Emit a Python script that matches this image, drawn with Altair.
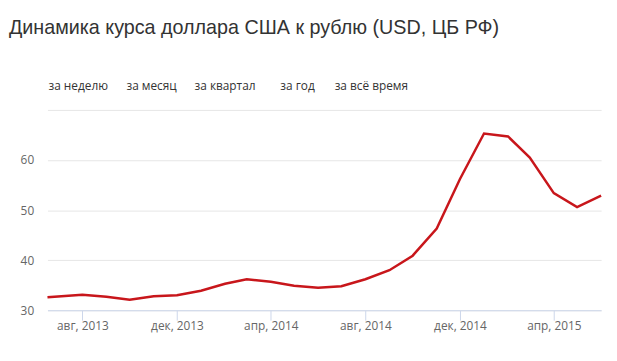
import altair as alt
import pandas as pd

TITLE = "Динамика курса доллара США к рублю (USD, ЦБ РФ)"
BUTTONS = ["за неделю", "за месяц", "за квартал", "за год", "за всё время"]

DATES = [
    "2013-06-17", "2013-08-01", "2013-09-01", "2013-10-01", "2013-11-01", "2013-12-01",
    "2014-01-01", "2014-02-01", "2014-03-01", "2014-04-01", "2014-05-01", "2014-06-01",
    "2014-07-01", "2014-08-01", "2014-09-01", "2014-10-01", "2014-11-01", "2014-12-01",
    "2015-01-01", "2015-02-01", "2015-03-01", "2015-04-01", "2015-05-01", "2015-06-01",
]
RATES = [
    32.6, 33.1, 32.7, 32.1, 32.8, 33.0,
    33.9, 35.3, 36.2, 35.7, 34.9, 34.5,
    34.8, 36.2, 38.0, 40.9, 46.3, 56.2,
    65.3, 64.7, 60.5, 53.4, 50.6, 52.9,
]
MONTHS_RU = ["янв", "фев", "мар", "апр", "май", "июн", "июл", "авг", "сен", "окт", "ноя", "дек"]
TICK_DATES = [(2013, 8), (2013, 12), (2014, 4), (2014, 8), (2014, 12), (2015, 4)]
Y_TICKS = [30, 40, 50, 60, 70]

df = pd.DataFrame({"date": DATES, "rate": RATES})

months_js = "[" + ",".join(f"'{m}'" for m in MONTHS_RU) + "]"
x_values = [alt.DateTime(year=y, month=m, date=1, utc=True) for y, m in TICK_DATES]

line = alt.Chart(df).mark_line(color="#c8161b", strokeWidth=2.5).encode(
    x=alt.X(
        "date:T",
        scale=alt.Scale(type="utc", domain=[alt.DateTime(year=2013, month=6, date=17, utc=True),
                                            alt.DateTime(year=2015, month=6, date=1, utc=True)]),
        axis=alt.Axis(
            title=None,
            values=x_values,
            labelExpr=f"{months_js}[utcmonth(datum.value)] + ', ' + utcyear(datum.value)",
            grid=False,
            domainColor="#ccd6eb",
            tickColor="#ccd6eb",
            tickSize=10,
            labelPadding=0,
            labelColor="#666666",
            labelFontSize=12,
            labelFont="Open Sans",
        ),
    ),
    y=alt.Y(
        "rate:Q",
        scale=alt.Scale(domain=[30, 70], nice=False),
        axis=alt.Axis(
            title=None,
            values=Y_TICKS,
            labelExpr="datum.value >= 70 ? '' : datum.label",
            domain=False,
            ticks=False,
            gridColor="#e6e6e6",
            labelPadding=14,
            labelColor="#666666",
            labelFontSize=12,
            labelFont="Open Sans",
        ),
    ),
)

layers = [line]
for label, px in zip(BUTTONS, [1, 80, 149, 236, 291]):
    layers.append(
        alt.Chart(pd.DataFrame({"label": [label]})).mark_text(
            align="left", baseline="middle", font="Open Sans",
            fontSize=12, color="#333333",
        ).encode(text="label:N", x=alt.value(px), y=alt.value(-24))
    )

chart = alt.layer(*layers).properties(
    width=561,
    height=203,
    title=alt.TitleParams(
        TITLE, anchor="start", frame="group", dx=-39, offset=43,
        font="Liberation Sans", fontSize=20, fontWeight="normal",
        color="#333333",
    ),
    autosize=alt.AutoSizeParams(type="none"),
    padding={"left": 40, "top": 101, "right": 8, "bottom": 40},
).configure_view(stroke=None)

chart.save("out.html", embed_options={"renderer": "svg", "actions": False})
